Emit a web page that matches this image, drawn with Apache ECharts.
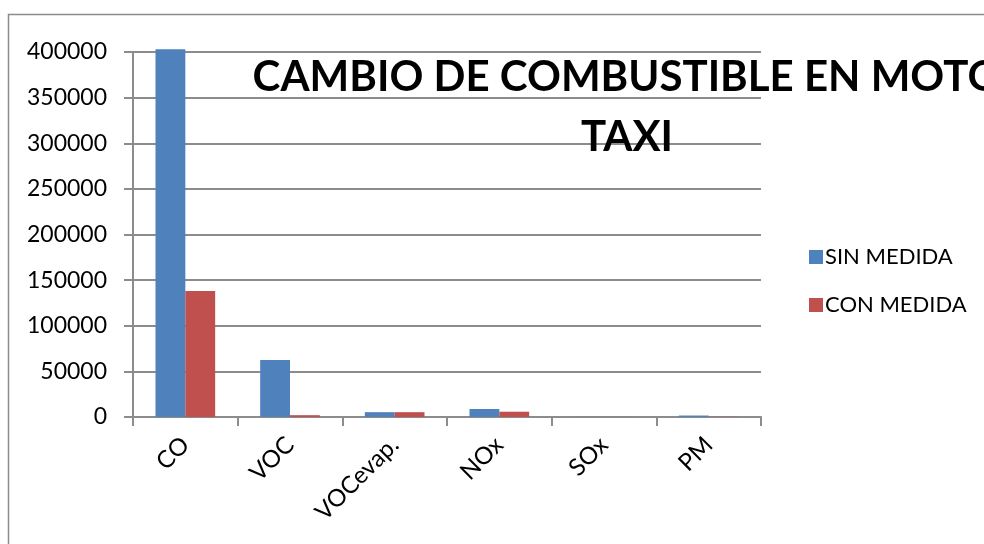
<!DOCTYPE html>
<html><head><meta charset="utf-8">
<script src="https://cdn.jsdelivr.net/npm/echarts@6/dist/echarts.min.js"></script>
<style>html,body{margin:0;padding:0;background:#fff}#c{width:984px;height:544px}</style>
</head><body><div id="c"></div>
<script>
const categories = ['CO', 'VOC', 'VOCevap.', 'NOx', 'SOx', 'PM'];
const sinMedida = [403000, 62500, 5300, 8800, 100, 1600];
const conMedida = [138000, 2000, 5300, 5800, 50, 200];
const seriesNames = ['SIN MEDIDA', 'CON MEDIDA'];
const titleLines = ['CAMBIO DE COMBUSTIBLE EN MOTO', 'TAXI'];

const chart = echarts.init(document.getElementById('c'), null, {renderer: 'canvas'});
const F = 'Lato, "Open Sans", sans-serif';
chart.setOption({
  animation: false,
  backgroundColor: '#fff',
  graphic: [{
    type: 'rect', silent: true, z: -1,
    shape: {x: 8.5, y: 14.5, width: 1200, height: 800},
    style: {fill: null, stroke: '#8c8c8c', lineWidth: 1.5}
  }],
  title: {
    text: titleLines.join('\n'),
    left: 622, top: 42, textAlign: 'center',
    textStyle: {fontFamily: F, fontWeight: 'bold', fontSize: 42, lineHeight: 60, color: '#000'}
  },
  legend: {
    orient: 'vertical', left: 804, top: 241,
    itemWidth: 14, itemHeight: 14, itemGap: 26,
    icon: 'rect',
    textStyle: {fontFamily: F, fontSize: 22, color: '#000', padding: [0,0,0,-3]},
    data: seriesNames
  },
  grid: {left: 133, right: 223, top: 52, bottom: 127, containLabel: false},
  xAxis: {
    type: 'category', data: categories,
    axisLine: {lineStyle: {color: '#8c8c8c', width: 2}},
    axisTick: {show: true, length: 9, lineStyle: {color: '#8c8c8c', width: 2}},
    axisLabel: {rotate: 45, fontFamily: F, fontSize: 24, color: '#000', margin: 24}
  },
  yAxis: {
    type: 'value', min: 0, max: 400000, interval: 50000,
    axisLine: {show: true, lineStyle: {color: '#8c8c8c', width: 2}},
    axisTick: {show: true, length: 9, lineStyle: {color: '#8c8c8c', width: 2}},
    splitLine: {lineStyle: {color: '#8c8c8c', width: 2}},
    axisLabel: {fontFamily: F, fontSize: 23, color: '#000', margin: 26, formatter: v => String(v)}
  },
  series: [
    {name: seriesNames[0], type: 'bar', data: sinMedida, clip: false,
     barGap: '0%', barCategoryGap: '43%', itemStyle: {color: '#4F81BD'}},
    {name: seriesNames[1], type: 'bar', data: conMedida, clip: false,
     itemStyle: {color: '#C0504D'}}
  ]
});
</script></body></html>
